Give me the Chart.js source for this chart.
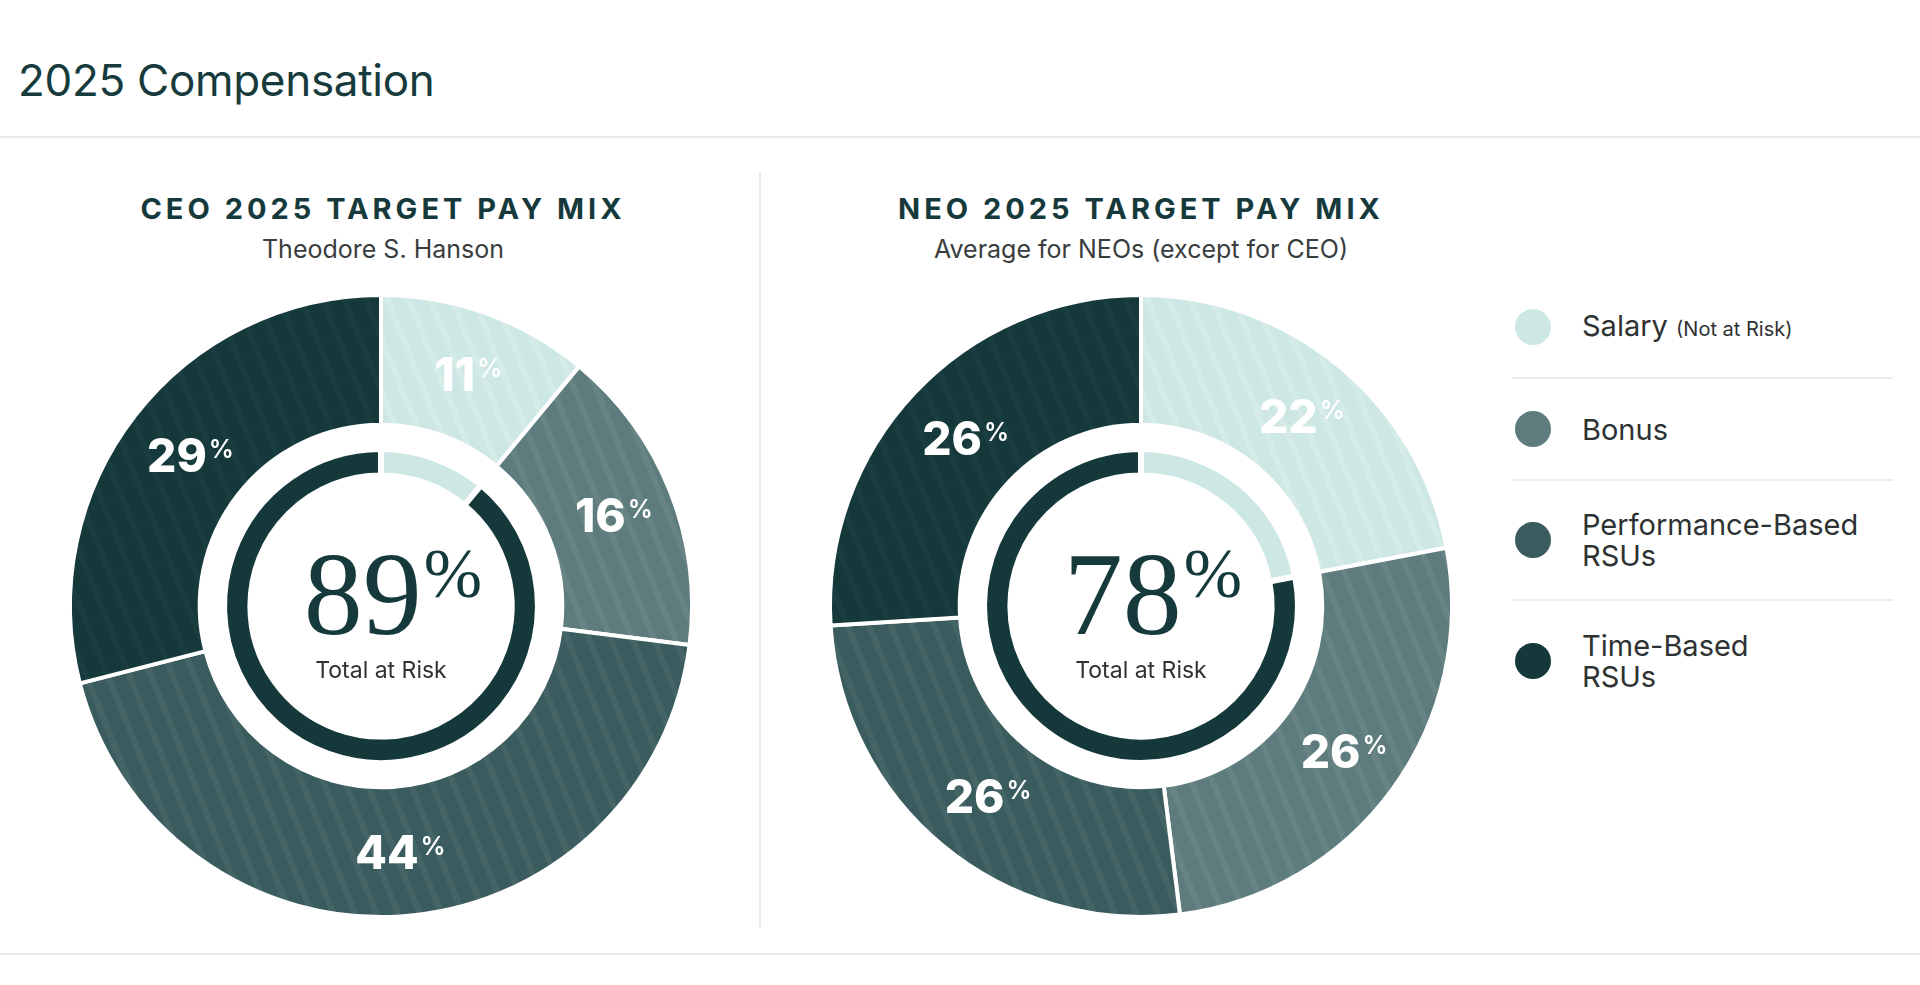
<!DOCTYPE html>
<html>
<head>
<meta charset="utf-8">
<title>2025 Compensation</title>
<script src="https://cdn.jsdelivr.net/npm/chart.js@4.4.1/dist/chart.umd.min.js"></script>
<style>
    html, body { margin: 0; padding: 0; background: #fff; }
    body { width: 1920px; height: 985px; position: relative; overflow: hidden; font-family: Inter, "Noto Sans", sans-serif; }
    .page-title { position: absolute; left: 18px; top: 52px; font-size: 44px; line-height: 56px; color: #173b3c; letter-spacing: -0.3px; }
    .rule { position: absolute; background: #e8eaea; }
    .chart-head { position: absolute; top: 191px; width: 700px; text-align: center; }
    .chart-head h2 { margin: 0; font-size: 29px; line-height: 36px; font-weight: 700; letter-spacing: 4px; color: #163a3b; }
    .chart-head p { margin: 7px 0 0; font-size: 25px; line-height: 30px; color: #3a3d3d; }
    canvas { position: absolute; }
    .legend { position: absolute; left: 1512px; top: 277px; width: 381px; }
    .legend-item { display: flex; align-items: center; border-bottom: 2px solid #eceeee; box-sizing: border-box; }
    .legend-item:last-child { border-bottom: none; }
    .legend-dot { width: 36px; height: 36px; border-radius: 50%; margin-left: 3px; margin-right: 31px; flex: none; }
    .legend-text { font-size: 29px; line-height: 31px; color: #2e3232; }
    .legend-text small { font-size: 20px; }
</style>
</head>
<body>
<div class="page-title">2025 Compensation</div>
<div class="rule" style="left:0; top:136px; width:1920px; height:2px;"></div>
<div class="rule" style="left:759px; top:172px; width:2px; height:756px;"></div>
<div class="rule" style="left:0; top:953px; width:1920px; height:2px;"></div>

<div class="chart-head" style="left:33px;">
    <h2>CEO 2025 TARGET PAY MIX</h2>
    <p>Theodore S. Hanson</p>
</div>
<div class="chart-head" style="left:791px;">
    <h2>NEO 2025 TARGET PAY MIX</h2>
    <p>Average for NEOs (except for CEO)</p>
</div>

<canvas id="ceoChart" width="660" height="660" style="left:51px; top:276px;"></canvas>
<canvas id="neoChart" width="660" height="660" style="left:811px; top:276px;"></canvas>

<div class="legend" id="legend"></div>

<script>
// pay mix categories, in clockwise order from 12 o'clock
const categories = ['Salary', 'Bonus', 'Performance-Based RSUs', 'Time-Based RSUs'];
const legendLabels = ['Salary <small>(Not at Risk)</small>', 'Bonus', 'Performance-Based<br>RSUs', 'Time-Based<br>RSUs'];

const ceoMix = [11, 16, 44, 29];
const neoMix = [22, 26, 26, 26];

// share of pay at risk (everything except salary)
const ceoAtRisk = 89;
const neoAtRisk = 78;

const colors = ['#cde8e4', '#5e7c7d', '#3b5c5e', '#15393b'];
const stripeColors = ['rgba(255,255,255,0.16)', 'rgba(255,255,255,0.06)', 'rgba(255,255,255,0.05)', 'rgba(255,255,255,0.025)'];

function stripePattern(base, stripe) {
    const tile = document.createElement('canvas');
    tile.width = 20;
    tile.height = 20;
    const t = tile.getContext('2d');
    t.fillStyle = base;
    t.fillRect(0, 0, 20, 20);
    t.fillStyle = stripe;
    t.fillRect(0, 0, 6, 20);
    const pattern = t.createPattern(tile, 'repeat');
    pattern.setTransform(new DOMMatrix().rotate(-22));
    return pattern;
}

const sliceLabels = {
    id: 'sliceLabels',
    afterDatasetsDraw(chart) {
        const ctx = chart.ctx;
        const values = chart.data.datasets[0].data;
        ctx.save();
        ctx.fillStyle = '#ffffff';
        ctx.textAlign = 'left';
        ctx.textBaseline = 'alphabetic';
        chart.getDatasetMeta(0).data.forEach((arc, i) => {
            const p = arc.getProps(['x', 'y', 'startAngle', 'endAngle', 'innerRadius', 'outerRadius'], true);
            const mid = (p.startAngle + p.endAngle) / 2;
            const r = (p.innerRadius + p.outerRadius) / 2;
            const px = p.x + Math.cos(mid) * r;
            const py = p.y + Math.sin(mid) * r;
            const num = String(values[i]);
            ctx.font = '800 46px Inter';
            const nw = ctx.measureText(num).width;
            ctx.font = '600 25px Inter';
            const pw = ctx.measureText('%').width;
            const x0 = px - (nw + 2 + pw) / 2 + 4;
            ctx.font = '800 46px Inter';
            ctx.fillText(num, x0, py + 17);
            ctx.font = '600 25px Inter';
            ctx.fillText('%', x0 + nw + 2, py + 3);
        });
        ctx.restore();
    }
};

const centerText = {
    id: 'centerText',
    afterDatasetsDraw(chart) {
        const ctx = chart.ctx;
        const {x, y} = chart.getDatasetMeta(0).data[0].getProps(['x', 'y'], true);
        const inner = chart.data.datasets[2].data;
        const num = String(inner[1]);
        ctx.save();
        ctx.textAlign = 'left';
        ctx.textBaseline = 'alphabetic';
        ctx.fillStyle = '#163a3b';
        ctx.font = '400 118px "Liberation Serif"';
        const nw = ctx.measureText(num).width;
        ctx.font = '400 70px "Liberation Serif"';
        const pw = ctx.measureText('%').width;
        const x0 = x - (nw + 2 + pw) / 2 + 12;
        ctx.font = '400 118px "Liberation Serif"';
        ctx.fillText(num, x0, y + 28);
        ctx.font = '400 70px "Liberation Serif"';
        ctx.fillText('%', x0 + nw + 2, y - 9);
        ctx.fillStyle = '#2e3232';
        ctx.textAlign = 'center';
        ctx.font = '400 23px Inter';
        ctx.fillText('Total at Risk', x, y + 72);
        ctx.restore();
    }
};

function buildChart(id, mix, atRisk) {
    const ctx = document.getElementById(id).getContext('2d');
    return new Chart(ctx, {
        type: 'doughnut',
        data: {
            labels: categories,
            datasets: [
                {
                    data: mix,
                    backgroundColor: colors.map((c, i) => stripePattern(c, stripeColors[i])),
                    borderColor: '#ffffff',
                    borderWidth: 4,
                    weight: 128
                },
                {
                    // empty white gap between the two rings
                    data: [1],
                    backgroundColor: 'rgba(0,0,0,0)',
                    borderWidth: 0,
                    weight: 24
                },
                {
                    data: [mix[0], atRisk],
                    backgroundColor: [colors[0], colors[3]],
                    borderColor: '#ffffff',
                    borderWidth: 6,
                    weight: 26
                }
            ]
        },
        options: {
            responsive: false,
            animation: false,
            events: [],
            radius: 311,
            cutout: '42%',
            layout: { padding: 0 },
            plugins: {
                legend: { display: false },
                tooltip: { enabled: false }
            }
        },
        plugins: [sliceLabels, centerText]
    });
}

buildChart('ceoChart', ceoMix, ceoAtRisk);
buildChart('neoChart', neoMix, neoAtRisk);

// legend
const legendHeights = [102, 102, 120, 120];
const legend = document.getElementById('legend');
categories.forEach((name, i) => {
    const item = document.createElement('div');
    item.className = 'legend-item';
    item.style.height = legendHeights[i] + 'px';
    item.innerHTML = '<span class="legend-dot" style="background:' + colors[i] + '"></span>' +
        '<span class="legend-text">' + legendLabels[i] + '</span>';
    legend.appendChild(item);
});
</script>
</body>
</html>
